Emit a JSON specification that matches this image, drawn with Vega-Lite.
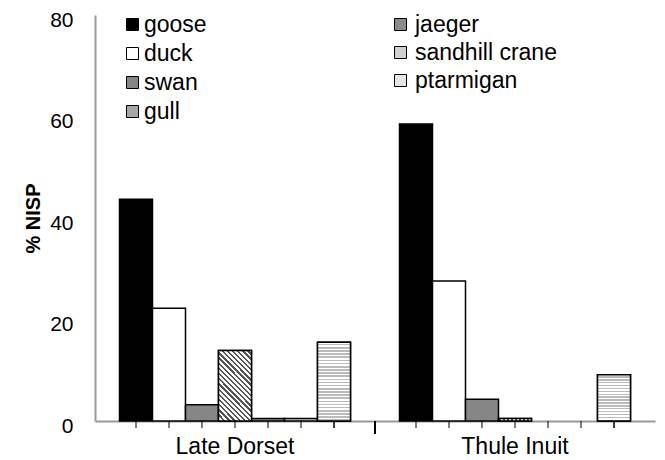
{
  "$schema": "https://vega.github.io/schema/vega-lite/v6.json",
  "width": 560,
  "height": 406,
  "autosize": "none",
  "padding": {"left": 95, "top": 15, "right": 10, "bottom": 39},
  "background": "white",
  "config": {
    "view": {"stroke": null},
    "font": "Liberation Sans",
    "legend": {"padding": 0, "offset": 0}
  },
  "data": {
    "values": [
      {"group": "Late Dorset", "bird": "goose", "value": 43.7},
      {"group": "Late Dorset", "bird": "duck", "value": 22.2},
      {"group": "Late Dorset", "bird": "swan", "value": 3.2},
      {"group": "Late Dorset", "bird": "gull", "value": 13.9},
      {"group": "Late Dorset", "bird": "jaeger", "value": 0.5},
      {"group": "Late Dorset", "bird": "sandhill crane", "value": 0.5},
      {"group": "Late Dorset", "bird": "ptarmigan", "value": 15.5},
      {"group": "Thule Inuit", "bird": "goose", "value": 58.5},
      {"group": "Thule Inuit", "bird": "duck", "value": 27.6},
      {"group": "Thule Inuit", "bird": "swan", "value": 4.3},
      {"group": "Thule Inuit", "bird": "gull", "value": 0.5},
      {"group": "Thule Inuit", "bird": "jaeger", "value": 0},
      {"group": "Thule Inuit", "bird": "sandhill crane", "value": 0},
      {"group": "Thule Inuit", "bird": "ptarmigan", "value": 9.1}
    ]
  },
  "encoding": {
    "x": {
      "field": "group", "type": "nominal",
      "scale": {"paddingInner": 0, "paddingOuter": 0},
      "axis": {"title": null, "labelFontSize": 23, "labelAngle": 0, "labelColor": "black", "ticks": false, "tickSize": 0, "labelPadding": 14, "domainColor": "#999", "domainWidth": 2}
    },
    "xOffset": {
      "field": "bird", "type": "nominal",
      "scale": {"domain": ["goose", "duck", "swan", "gull", "jaeger", "sandhill crane", "ptarmigan"], "paddingInner": 0, "paddingOuter": 0.7424}
    }
  },
  "layer": [
    {
      "transform": [{"filter": "indexof(['goose','duck','swan','gull'], datum.bird) >= 0 && datum.value > 0"}],
      "mark": {"type": "bar", "stroke": "black", "strokeWidth": 1.5},
      "encoding": {
        "y": {
          "field": "value", "type": "quantitative",
          "scale": {"domain": [0, 80], "nice": false},
          "axis": {"title": "% NISP", "titleFontSize": 20, "titleFontWeight": "bold", "titleColor": "black", "titlePadding": 6, "labelFontSize": 21, "labelColor": "black", "labelPadding": 22, "labelOffset": 5, "ticks": false, "tickSize": 0, "grid": false, "values": [0, 20, 40, 60, 80], "domainColor": "#999", "domainWidth": 2}
        },
        "fill": {
          "field": "bird", "type": "nominal",
          "scale": {"domain": ["goose", "duck", "swan", "gull"], "range": ["#000000", "#ffffff", "#868686", "#a6a6a6"]},
          "legend": {
            "title": null, "orient": "none", "legendX": 26, "legendY": -2, "direction": "vertical",
            "symbolType": "square", "symbolSize": 144, "symbolStrokeColor": "black", "symbolStrokeWidth": 1,
            "labelFontSize": 23, "labelColor": "black", "labelOffset": 0, "rowPadding": 5
          }
        }
      }
    },
    {
      "transform": [{"filter": "indexof(['jaeger','sandhill crane','ptarmigan'], datum.bird) >= 0 && datum.value > 0"}],
      "mark": {"type": "bar", "stroke": "black", "strokeWidth": 1.5},
      "encoding": {
        "y": {"field": "value", "type": "quantitative"},
        "fill": {
          "field": "bird", "type": "nominal",
          "scale": {"domain": ["jaeger", "sandhill crane", "ptarmigan"], "range": ["#8c8c8c", "#d0d0d0", "#e6e6e6"]},
          "legend": {
            "title": null, "orient": "none", "legendX": 294, "legendY": -2, "direction": "vertical",
            "symbolType": "square", "symbolSize": 144, "symbolStrokeColor": "black", "symbolStrokeWidth": 1,
            "labelFontSize": 23, "labelColor": "black", "labelOffset": 3, "rowPadding": 4
          }
        }
      }
    },
    {
      "transform": [{"filter": "datum.group === 'Late Dorset' && datum.bird === 'gull'"}],
      "mark": {"type": "bar", "stroke": "black", "strokeWidth": 1.5,
        "fill": {"gradient": "linear", "x1": 0, "y1": 1, "x2": 0.568, "y2": -0.204, "stops": [
          {"offset": 0, "color": "#555"}, {"offset": 0.0225, "color": "#555"}, {"offset": 0.0225, "color": "#fff"}, {"offset": 0.05, "color": "#fff"},
          {"offset": 0.05, "color": "#555"}, {"offset": 0.0725, "color": "#555"}, {"offset": 0.0725, "color": "#fff"}, {"offset": 0.1, "color": "#fff"},
          {"offset": 0.1, "color": "#555"}, {"offset": 0.1225, "color": "#555"}, {"offset": 0.1225, "color": "#fff"}, {"offset": 0.15, "color": "#fff"},
          {"offset": 0.15, "color": "#555"}, {"offset": 0.1725, "color": "#555"}, {"offset": 0.1725, "color": "#fff"}, {"offset": 0.2, "color": "#fff"},
          {"offset": 0.2, "color": "#555"}, {"offset": 0.2225, "color": "#555"}, {"offset": 0.2225, "color": "#fff"}, {"offset": 0.25, "color": "#fff"},
          {"offset": 0.25, "color": "#555"}, {"offset": 0.2725, "color": "#555"}, {"offset": 0.2725, "color": "#fff"}, {"offset": 0.3, "color": "#fff"},
          {"offset": 0.3, "color": "#555"}, {"offset": 0.3225, "color": "#555"}, {"offset": 0.3225, "color": "#fff"}, {"offset": 0.35, "color": "#fff"},
          {"offset": 0.35, "color": "#555"}, {"offset": 0.3725, "color": "#555"}, {"offset": 0.3725, "color": "#fff"}, {"offset": 0.4, "color": "#fff"},
          {"offset": 0.4, "color": "#555"}, {"offset": 0.4225, "color": "#555"}, {"offset": 0.4225, "color": "#fff"}, {"offset": 0.45, "color": "#fff"},
          {"offset": 0.45, "color": "#555"}, {"offset": 0.4725, "color": "#555"}, {"offset": 0.4725, "color": "#fff"}, {"offset": 0.5, "color": "#fff"},
          {"offset": 0.5, "color": "#555"}, {"offset": 0.5225, "color": "#555"}, {"offset": 0.5225, "color": "#fff"}, {"offset": 0.55, "color": "#fff"},
          {"offset": 0.55, "color": "#555"}, {"offset": 0.5725, "color": "#555"}, {"offset": 0.5725, "color": "#fff"}, {"offset": 0.6, "color": "#fff"},
          {"offset": 0.6, "color": "#555"}, {"offset": 0.6225, "color": "#555"}, {"offset": 0.6225, "color": "#fff"}, {"offset": 0.65, "color": "#fff"},
          {"offset": 0.65, "color": "#555"}, {"offset": 0.6725, "color": "#555"}, {"offset": 0.6725, "color": "#fff"}, {"offset": 0.7, "color": "#fff"},
          {"offset": 0.7, "color": "#555"}, {"offset": 0.7225, "color": "#555"}, {"offset": 0.7225, "color": "#fff"}, {"offset": 0.75, "color": "#fff"},
          {"offset": 0.75, "color": "#555"}, {"offset": 0.7725, "color": "#555"}, {"offset": 0.7725, "color": "#fff"}, {"offset": 0.8, "color": "#fff"},
          {"offset": 0.8, "color": "#555"}, {"offset": 0.8225, "color": "#555"}, {"offset": 0.8225, "color": "#fff"}, {"offset": 0.85, "color": "#fff"},
          {"offset": 0.85, "color": "#555"}, {"offset": 0.8725, "color": "#555"}, {"offset": 0.8725, "color": "#fff"}, {"offset": 0.9, "color": "#fff"},
          {"offset": 0.9, "color": "#555"}, {"offset": 0.9225, "color": "#555"}, {"offset": 0.9225, "color": "#fff"}, {"offset": 0.95, "color": "#fff"},
          {"offset": 0.95, "color": "#555"}, {"offset": 0.9725, "color": "#555"}, {"offset": 0.9725, "color": "#fff"}, {"offset": 1, "color": "#fff"}
        ]}
      },
      "encoding": {"y": {"field": "value", "type": "quantitative"}}
    },
    {
      "transform": [{"filter": "datum.group === 'Thule Inuit' && datum.bird === 'gull'"}],
      "mark": {"type": "bar", "stroke": "black", "strokeWidth": 1.5,
        "fill": {"gradient": "linear", "x1": 0, "y1": 0, "x2": 1, "y2": 0, "stops": [
          {"offset": 0, "color": "#555"}, {"offset": 0.0625, "color": "#555"}, {"offset": 0.0625, "color": "#fff"}, {"offset": 0.125, "color": "#fff"},
          {"offset": 0.125, "color": "#555"}, {"offset": 0.1875, "color": "#555"}, {"offset": 0.1875, "color": "#fff"}, {"offset": 0.25, "color": "#fff"},
          {"offset": 0.25, "color": "#555"}, {"offset": 0.3125, "color": "#555"}, {"offset": 0.3125, "color": "#fff"}, {"offset": 0.375, "color": "#fff"},
          {"offset": 0.375, "color": "#555"}, {"offset": 0.4375, "color": "#555"}, {"offset": 0.4375, "color": "#fff"}, {"offset": 0.5, "color": "#fff"},
          {"offset": 0.5, "color": "#555"}, {"offset": 0.5625, "color": "#555"}, {"offset": 0.5625, "color": "#fff"}, {"offset": 0.625, "color": "#fff"},
          {"offset": 0.625, "color": "#555"}, {"offset": 0.6875, "color": "#555"}, {"offset": 0.6875, "color": "#fff"}, {"offset": 0.75, "color": "#fff"},
          {"offset": 0.75, "color": "#555"}, {"offset": 0.8125, "color": "#555"}, {"offset": 0.8125, "color": "#fff"}, {"offset": 0.875, "color": "#fff"},
          {"offset": 0.875, "color": "#555"}, {"offset": 0.9375, "color": "#555"}, {"offset": 0.9375, "color": "#fff"}, {"offset": 1, "color": "#fff"}
        ]}
      },
      "encoding": {"y": {"field": "value", "type": "quantitative"}}
    },
    {
      "transform": [{"filter": "datum.group === 'Late Dorset' && datum.bird === 'ptarmigan'"}],
      "mark": {"type": "bar", "stroke": "black", "strokeWidth": 1.5,
        "fill": {"gradient": "linear", "x1": 0, "y1": 0, "x2": 0, "y2": 1, "stops": [
          {"offset": 0, "color": "#fff"}, {"offset": 0.02, "color": "#fff"}, {"offset": 0.02, "color": "#bbb"}, {"offset": 0.04, "color": "#bbb"},
          {"offset": 0.04, "color": "#fff"}, {"offset": 0.06, "color": "#fff"}, {"offset": 0.06, "color": "#bbb"}, {"offset": 0.08, "color": "#bbb"},
          {"offset": 0.08, "color": "#fff"}, {"offset": 0.1, "color": "#fff"}, {"offset": 0.1, "color": "#bbb"}, {"offset": 0.12, "color": "#bbb"},
          {"offset": 0.12, "color": "#fff"}, {"offset": 0.14, "color": "#fff"}, {"offset": 0.14, "color": "#bbb"}, {"offset": 0.16, "color": "#bbb"},
          {"offset": 0.16, "color": "#fff"}, {"offset": 0.18, "color": "#fff"}, {"offset": 0.18, "color": "#bbb"}, {"offset": 0.2, "color": "#bbb"},
          {"offset": 0.2, "color": "#fff"}, {"offset": 0.22, "color": "#fff"}, {"offset": 0.22, "color": "#bbb"}, {"offset": 0.24, "color": "#bbb"},
          {"offset": 0.24, "color": "#fff"}, {"offset": 0.26, "color": "#fff"}, {"offset": 0.26, "color": "#bbb"}, {"offset": 0.28, "color": "#bbb"},
          {"offset": 0.28, "color": "#fff"}, {"offset": 0.3, "color": "#fff"}, {"offset": 0.3, "color": "#bbb"}, {"offset": 0.32, "color": "#bbb"},
          {"offset": 0.32, "color": "#fff"}, {"offset": 0.34, "color": "#fff"}, {"offset": 0.34, "color": "#bbb"}, {"offset": 0.36, "color": "#bbb"},
          {"offset": 0.36, "color": "#fff"}, {"offset": 0.38, "color": "#fff"}, {"offset": 0.38, "color": "#bbb"}, {"offset": 0.4, "color": "#bbb"},
          {"offset": 0.4, "color": "#fff"}, {"offset": 0.42, "color": "#fff"}, {"offset": 0.42, "color": "#bbb"}, {"offset": 0.44, "color": "#bbb"},
          {"offset": 0.44, "color": "#fff"}, {"offset": 0.46, "color": "#fff"}, {"offset": 0.46, "color": "#bbb"}, {"offset": 0.48, "color": "#bbb"},
          {"offset": 0.48, "color": "#fff"}, {"offset": 0.5, "color": "#fff"}, {"offset": 0.5, "color": "#bbb"}, {"offset": 0.52, "color": "#bbb"},
          {"offset": 0.52, "color": "#fff"}, {"offset": 0.54, "color": "#fff"}, {"offset": 0.54, "color": "#bbb"}, {"offset": 0.56, "color": "#bbb"},
          {"offset": 0.56, "color": "#fff"}, {"offset": 0.58, "color": "#fff"}, {"offset": 0.58, "color": "#bbb"}, {"offset": 0.6, "color": "#bbb"},
          {"offset": 0.6, "color": "#fff"}, {"offset": 0.62, "color": "#fff"}, {"offset": 0.62, "color": "#bbb"}, {"offset": 0.64, "color": "#bbb"},
          {"offset": 0.64, "color": "#fff"}, {"offset": 0.66, "color": "#fff"}, {"offset": 0.66, "color": "#bbb"}, {"offset": 0.68, "color": "#bbb"},
          {"offset": 0.68, "color": "#fff"}, {"offset": 0.7, "color": "#fff"}, {"offset": 0.7, "color": "#bbb"}, {"offset": 0.72, "color": "#bbb"},
          {"offset": 0.72, "color": "#fff"}, {"offset": 0.74, "color": "#fff"}, {"offset": 0.74, "color": "#bbb"}, {"offset": 0.76, "color": "#bbb"},
          {"offset": 0.76, "color": "#fff"}, {"offset": 0.78, "color": "#fff"}, {"offset": 0.78, "color": "#bbb"}, {"offset": 0.8, "color": "#bbb"},
          {"offset": 0.8, "color": "#fff"}, {"offset": 0.82, "color": "#fff"}, {"offset": 0.82, "color": "#bbb"}, {"offset": 0.84, "color": "#bbb"},
          {"offset": 0.84, "color": "#fff"}, {"offset": 0.86, "color": "#fff"}, {"offset": 0.86, "color": "#bbb"}, {"offset": 0.88, "color": "#bbb"},
          {"offset": 0.88, "color": "#fff"}, {"offset": 0.9, "color": "#fff"}, {"offset": 0.9, "color": "#bbb"}, {"offset": 0.92, "color": "#bbb"},
          {"offset": 0.92, "color": "#fff"}, {"offset": 0.94, "color": "#fff"}, {"offset": 0.94, "color": "#bbb"}, {"offset": 0.96, "color": "#bbb"},
          {"offset": 0.96, "color": "#fff"}, {"offset": 0.98, "color": "#fff"}, {"offset": 0.98, "color": "#bbb"}, {"offset": 1, "color": "#bbb"}
        ]}
      },
      "encoding": {"y": {"field": "value", "type": "quantitative"}}
    },
    {
      "transform": [{"filter": "datum.group === 'Thule Inuit' && datum.bird === 'ptarmigan'"}],
      "mark": {"type": "bar", "stroke": "black", "strokeWidth": 1.5,
        "fill": {"gradient": "linear", "x1": 0, "y1": 0, "x2": 0, "y2": 1, "stops": [
          {"offset": 0, "color": "#fff"}, {"offset": 0.03125, "color": "#fff"}, {"offset": 0.03125, "color": "#bbb"}, {"offset": 0.0625, "color": "#bbb"},
          {"offset": 0.0625, "color": "#fff"}, {"offset": 0.09375, "color": "#fff"}, {"offset": 0.09375, "color": "#bbb"}, {"offset": 0.125, "color": "#bbb"},
          {"offset": 0.125, "color": "#fff"}, {"offset": 0.15625, "color": "#fff"}, {"offset": 0.15625, "color": "#bbb"}, {"offset": 0.1875, "color": "#bbb"},
          {"offset": 0.1875, "color": "#fff"}, {"offset": 0.21875, "color": "#fff"}, {"offset": 0.21875, "color": "#bbb"}, {"offset": 0.25, "color": "#bbb"},
          {"offset": 0.25, "color": "#fff"}, {"offset": 0.28125, "color": "#fff"}, {"offset": 0.28125, "color": "#bbb"}, {"offset": 0.3125, "color": "#bbb"},
          {"offset": 0.3125, "color": "#fff"}, {"offset": 0.34375, "color": "#fff"}, {"offset": 0.34375, "color": "#bbb"}, {"offset": 0.375, "color": "#bbb"},
          {"offset": 0.375, "color": "#fff"}, {"offset": 0.40625, "color": "#fff"}, {"offset": 0.40625, "color": "#bbb"}, {"offset": 0.4375, "color": "#bbb"},
          {"offset": 0.4375, "color": "#fff"}, {"offset": 0.46875, "color": "#fff"}, {"offset": 0.46875, "color": "#bbb"}, {"offset": 0.5, "color": "#bbb"},
          {"offset": 0.5, "color": "#fff"}, {"offset": 0.53125, "color": "#fff"}, {"offset": 0.53125, "color": "#bbb"}, {"offset": 0.5625, "color": "#bbb"},
          {"offset": 0.5625, "color": "#fff"}, {"offset": 0.59375, "color": "#fff"}, {"offset": 0.59375, "color": "#bbb"}, {"offset": 0.625, "color": "#bbb"},
          {"offset": 0.625, "color": "#fff"}, {"offset": 0.65625, "color": "#fff"}, {"offset": 0.65625, "color": "#bbb"}, {"offset": 0.6875, "color": "#bbb"},
          {"offset": 0.6875, "color": "#fff"}, {"offset": 0.71875, "color": "#fff"}, {"offset": 0.71875, "color": "#bbb"}, {"offset": 0.75, "color": "#bbb"},
          {"offset": 0.75, "color": "#fff"}, {"offset": 0.78125, "color": "#fff"}, {"offset": 0.78125, "color": "#bbb"}, {"offset": 0.8125, "color": "#bbb"},
          {"offset": 0.8125, "color": "#fff"}, {"offset": 0.84375, "color": "#fff"}, {"offset": 0.84375, "color": "#bbb"}, {"offset": 0.875, "color": "#bbb"},
          {"offset": 0.875, "color": "#fff"}, {"offset": 0.90625, "color": "#fff"}, {"offset": 0.90625, "color": "#bbb"}, {"offset": 0.9375, "color": "#bbb"},
          {"offset": 0.9375, "color": "#fff"}, {"offset": 0.96875, "color": "#fff"}, {"offset": 0.96875, "color": "#bbb"}, {"offset": 1, "color": "#bbb"}
        ]}
      },
      "encoding": {"y": {"field": "value", "type": "quantitative"}}
    },
    {
      "mark": {"type": "rule", "color": "black", "strokeWidth": 1, "xOffset": -16.5, "y2Offset": 7},
      "encoding": {"y": {"datum": 0}, "y2": {"datum": 0}}
    },
    {
      "transform": [{"filter": "datum.bird === 'ptarmigan'"}],
      "mark": {"type": "rule", "color": "black", "strokeWidth": 1, "xOffset": 16.5, "y2Offset": 7},
      "encoding": {"y": {"datum": 0}, "y2": {"datum": 0}}
    },
    {
      "transform": [{"filter": "datum.group === 'Thule Inuit' && datum.bird === 'goose'"}],
      "mark": {"type": "rule", "color": "black", "strokeWidth": 2, "y2Offset": 13},
      "encoding": {
        "x": {"field": "group", "type": "nominal", "bandPosition": 0},
        "xOffset": null,
        "y": {"datum": 0}, "y2": {"datum": 0}
      }
    }
  ],
  "resolve": {"scale": {"fill": "independent"}, "legend": {"fill": "independent"}}
}
